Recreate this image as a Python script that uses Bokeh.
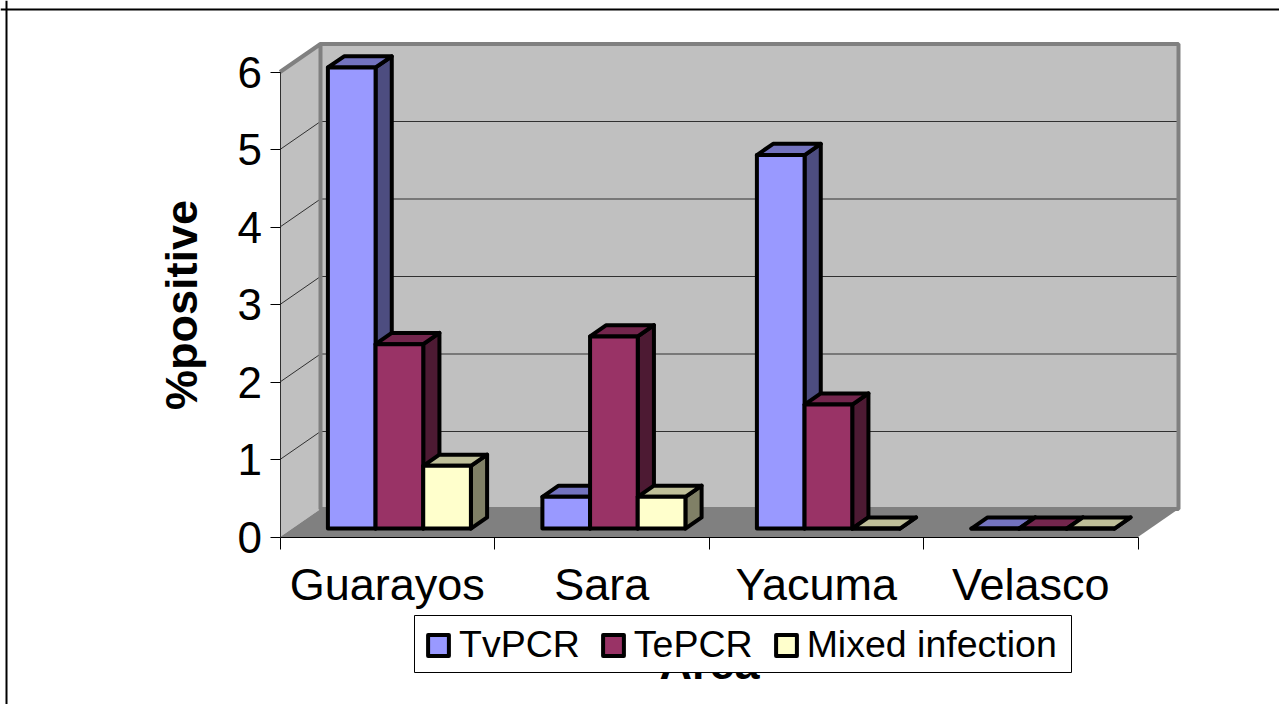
from bokeh.plotting import figure
from bokeh.embed import file_html
from bokeh.resources import INLINE
from bokeh.models import Legend, LegendItem, FixedTicker, Range1d, Span, BoxAnnotation

categories = ["Guarayos", "Sara", "Yacuma", "Velasco"]
series_names = ["TvPCR", "TePCR", "Mixed infection"]
tv_pcr = [5.95, 0.41, 4.82, 0.0]
te_pcr = [2.38, 2.48, 1.60, 0.0]
mixed = [0.81, 0.41, 0.0, 0.0]
y_ticks = [0, 1, 2, 3, 4, 5, 6]
front_colors = ["#9999ff", "#993366", "#ffffcc"]
top_colors = ["#7373bf", "#73264d", "#bfbf99"]
side_colors = ["#4d4d80", "#4d1a33", "#808066"]

# Layout (page pixels)
W, H = 1279, 704
X0_PX, Y0_PX, CAT_PX, UNIT_PX = 279.5, 536.5, 214.5, 77.5
DEPTH_X = 40.5 / CAT_PX      # chart depth in category units
DEPTH_Y = 28 / UNIT_PX       # chart depth in value units
Y_MAX = 6
BAR_D0, BAR_D1 = 0.3, 0.7    # bar depth span
BAR_START = 1 / 6            # gap inside a category
BAR_W = (1 - 2 * BAR_START) / 3


def P(x, v, d=0.0):
    return x + d * DEPTH_X, v + d * DEPTH_Y


def poly(points):
    pts = [P(*q) for q in points]
    return [a for a, _ in pts], [b for _, b in pts]


def data_x(px):
    return (px - X0_PX) / CAT_PX


def data_y(px):
    return (Y0_PX - px) / UNIT_PX


x_range = Range1d(data_x(0), data_x(W))
y_range = Range1d(data_y(H), data_y(0))

p = figure(width=W, height=H, x_range=x_range, y_range=y_range,
           output_backend="svg", toolbar_location=None, min_border=0,
           background_fill_color="white",
           border_fill_color="white", outline_line_color=None)
p.grid.visible = False

n = len(categories)
# Walls and floor
wx, wy = poly([(0, 0, 1), (n, 0, 1), (n, Y_MAX, 1), (0, Y_MAX, 1)])
p.patch(wx, wy, fill_color="#c0c0c0", line_color=None)
sx, sy = poly([(0, 0, 0), (0, Y_MAX, 0), (0, Y_MAX, 1), (0, 0, 1)])
p.patch(sx, sy, fill_color="#c0c0c0", line_color=None)
fx, fy = poly([(0, 0, 0), (n, 0, 0), (n, 0, 1), (0, 0, 1)])
p.patch(fx, fy, fill_color="#808080", line_color=None)

# Gridlines on the back and the side wall
for t in y_ticks[1:-1]:
    gx, gy = poly([(0, t, 0), (0, t, 1), (n, t, 1)])
    p.line(gx, gy, line_color="#303030", line_width=1)

# Wall edges
ex, ey = poly([(0, Y_MAX, 0), (0, Y_MAX, 1), (n, Y_MAX, 1), (n, 0, 1), (0, 0, 1), (0, Y_MAX, 1)])
p.line(ex, ey, line_color="#808080", line_width=4)

# Bars
legend_items = []
for s, (name, vals) in enumerate(zip(series_names, [tv_pcr, te_pcr, mixed])):
    fronts, tops, sides = ([], []), ([], []), ([], [])
    for c, v in enumerate(vals):
        a = c + BAR_START + s * BAR_W
        b = a + BAR_W
        for store, pts in (
            (sides, [(b, 0, BAR_D0), (b, v, BAR_D0), (b, v, BAR_D1), (b, 0, BAR_D1)]),
            (tops, [(a, v, BAR_D0), (b, v, BAR_D0), (b, v, BAR_D1), (a, v, BAR_D1)]),
            (fronts, [(a, 0, BAR_D0), (b, 0, BAR_D0), (b, v, BAR_D0), (a, v, BAR_D0)]),
        ):
            qx, qy = poly(pts)
            store[0].append(qx)
            store[1].append(qy)
    style = dict(line_color="black", line_width=4, line_join="round")
    p.patches(sides[0], sides[1], fill_color=side_colors[s], **style)
    p.patches(tops[0], tops[1], fill_color=top_colors[s], **style)
    r = p.patches(fronts[0], fronts[1], fill_color=front_colors[s], **style)
    legend_items.append(LegendItem(label=name, renderers=[r]))

# Axes
xa = p.xaxis[0]
xa.fixed_location = 0
xa.bounds = (0, n)
xa.ticker = FixedTicker(ticks=[i + 0.5 for i in range(n)], minor_ticks=list(range(n + 1)))
xa.major_label_overrides = {i + 0.5: c for i, c in enumerate(categories)}
xa.major_tick_line_color = None
xa.major_tick_out = 0
xa.major_tick_in = 0
xa.minor_tick_out = 12
xa.minor_tick_in = 0
xa.minor_tick_line_color = "black"
xa.axis_line_color = "black"
xa.major_label_text_font = "Liberation Sans"
xa.major_label_text_font_size = "45px"
xa.major_label_text_color = "black"
xa.major_label_standoff = 10
xa.axis_label = "Area"
xa.axis_label_text_font = "Liberation Sans"
xa.axis_label_text_font_size = "45px"
xa.axis_label_text_font_style = "bold"
xa.axis_label_text_color = "black"
xa.axis_label_standoff = 24

ya = p.yaxis[0]
ya.fixed_location = 0
ya.bounds = (0, Y_MAX)
ya.ticker = FixedTicker(ticks=y_ticks)
ya.major_tick_out = 10
ya.major_tick_in = 0
ya.major_tick_line_color = "black"
ya.minor_tick_line_color = None
ya.axis_line_color = "#303030"
ya.major_label_text_font = "Liberation Sans"
ya.major_label_text_font_size = "44px"
ya.major_label_text_color = "black"
ya.major_label_standoff = 8
ya.axis_label = "%positive"
ya.axis_label_text_font = "Liberation Sans"
ya.axis_label_text_font_size = "45px"
ya.axis_label_text_font_style = "bold"
ya.axis_label_text_color = "black"
ya.axis_label_standoff = 28

# Page frame, of which only the left and top edges are in view
p.add_layout(Span(location=data_x(6), dimension="height", line_color="black", line_width=2))
p.add_layout(Span(location=data_y(9), dimension="width", line_color="black", line_width=2))

# Legend box and its entries
p.add_layout(BoxAnnotation(left=data_x(414), right=data_x(1071),
                           top=data_y(615), bottom=data_y(672),
                           fill_color="white", fill_alpha=1.0,
                           line_color="black", line_width=1, line_alpha=1.0))
legend = Legend(items=legend_items, orientation="horizontal",
                location=(425, H - 666),
                label_text_font="Liberation Sans", label_text_font_size="37.5px",
                label_text_color="black", glyph_width=26, glyph_height=26,
                label_standoff=8, spacing=20, padding=0, margin=0,
                border_line_color=None, background_fill_alpha=0.0)
p.add_layout(legend, "center")

open("out.html", "w").write(file_html(p, INLINE))
